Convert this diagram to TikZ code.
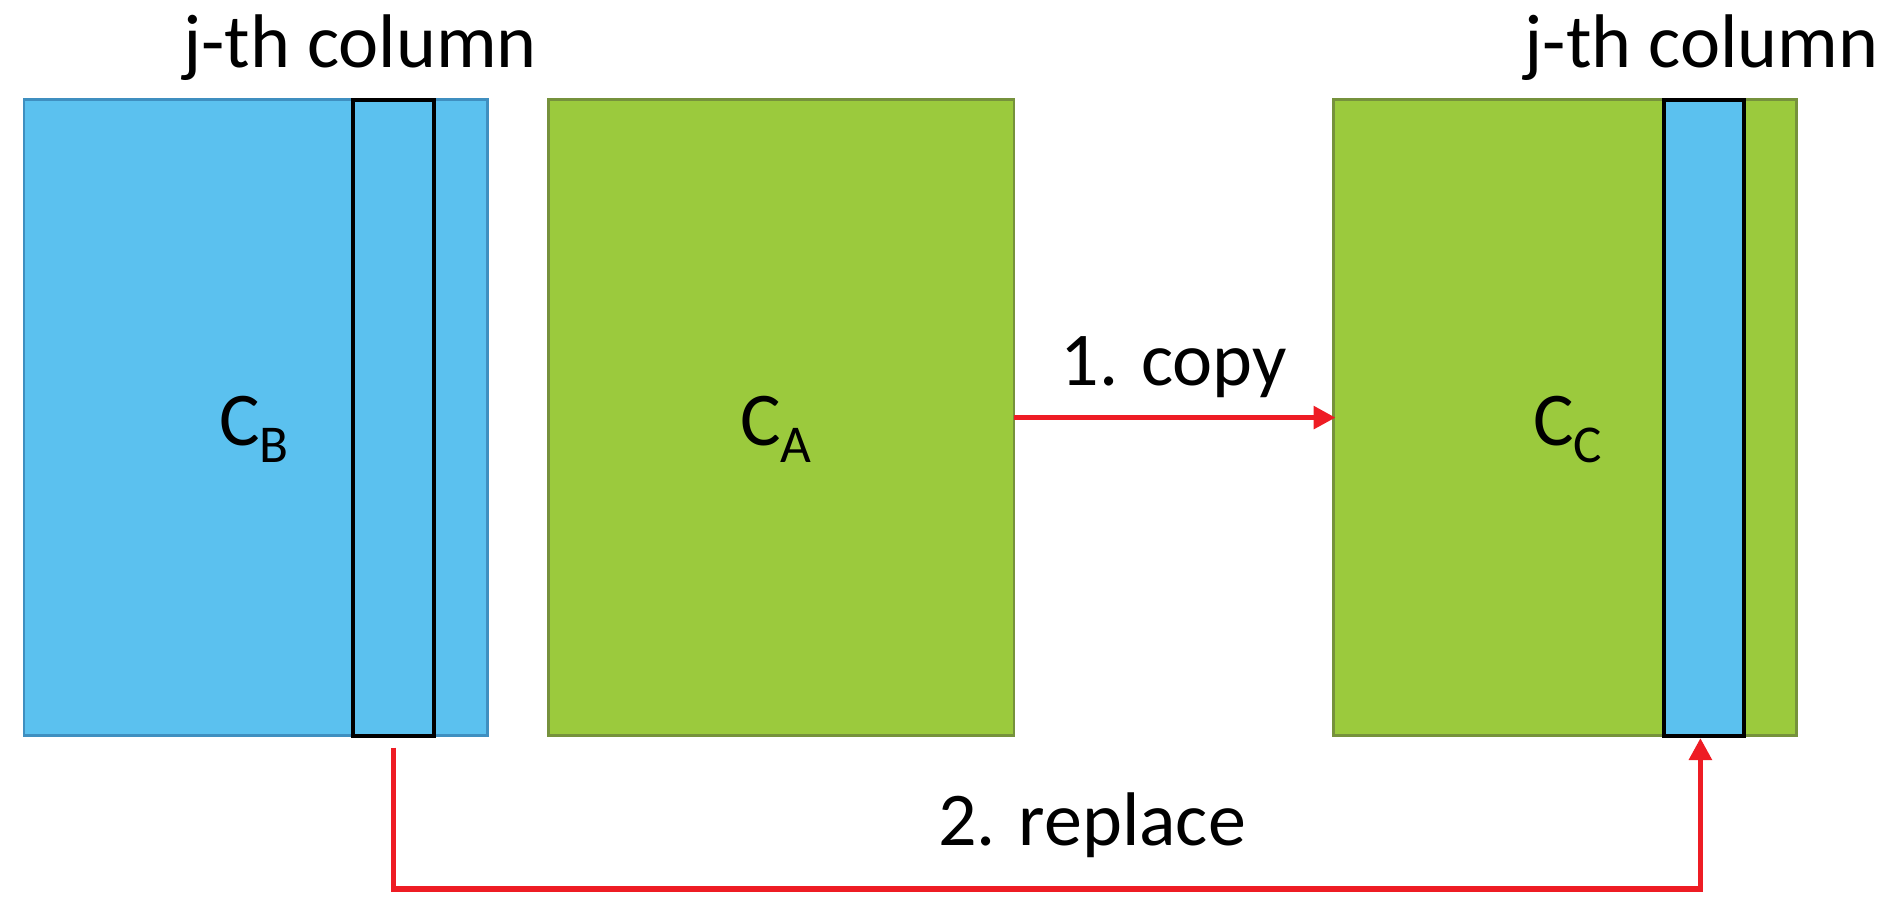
\documentclass[tikz,border=0pt]{standalone}
\usepackage{fontspec}
\setmainfont{Carlito}
\usetikzlibrary{arrows.meta}
\definecolor{lb}{HTML}{5BC1EF}
\definecolor{lbd}{HTML}{3F8FC0}
\definecolor{gr}{HTML}{9BCA3D}
\definecolor{grd}{HTML}{76923C}
\definecolor{rd}{HTML}{EE1C24}
\begin{document}
\begin{tikzpicture}[x=0.6pt,y=-0.6pt,
  lbl/.style={font=\fontsize{38}{44}\selectfont,inner sep=0pt},
  redarr/.style={draw=rd,line width=2.8pt,-{Triangle[length=11pt,width=11pt]}}]
\useasboundingbox (0,0) rectangle (1570,769);
\draw[fill=lb,draw=lbd,line width=1.3pt] (20,83) rectangle (406,613);
\draw[fill=lb,draw=black,line width=2pt] (294,83) rectangle (362,613);
\draw[fill=gr,draw=grd,line width=1.3pt] (457,83) rectangle (845,613);
\draw[fill=gr,draw=grd,line width=1.3pt] (1111,83) rectangle (1497,613);
\draw[fill=lb,draw=black,line width=2pt] (1387,83) rectangle (1453,613);
\node[lbl] (jl) at (300,40) {j-th column};
\node[lbl] (jr) at (1418,40) {j-th column};
\node[lbl] (cb) at (212,358) {C\textsubscript{B}};
\node[lbl] (ca) at (647,358) {C\textsubscript{A}};
\node[lbl] (cc) at (1307,358) {C\textsubscript{C}};
\coordinate (a1) at (845,348);
\coordinate (a2) at (1113,348);
\draw[redarr] (a1) -- (a2);
\node[lbl] (cp) at (978,306) {1. copy};
\coordinate (b1) at (328,623);
\coordinate (b2) at (1417,615);
\draw[redarr] (b1) -- (328,741) -- (1417,741) -- (b2);
\node[lbl] (rp) at (910,688) {2. replace};
\end{tikzpicture}
\end{document}
